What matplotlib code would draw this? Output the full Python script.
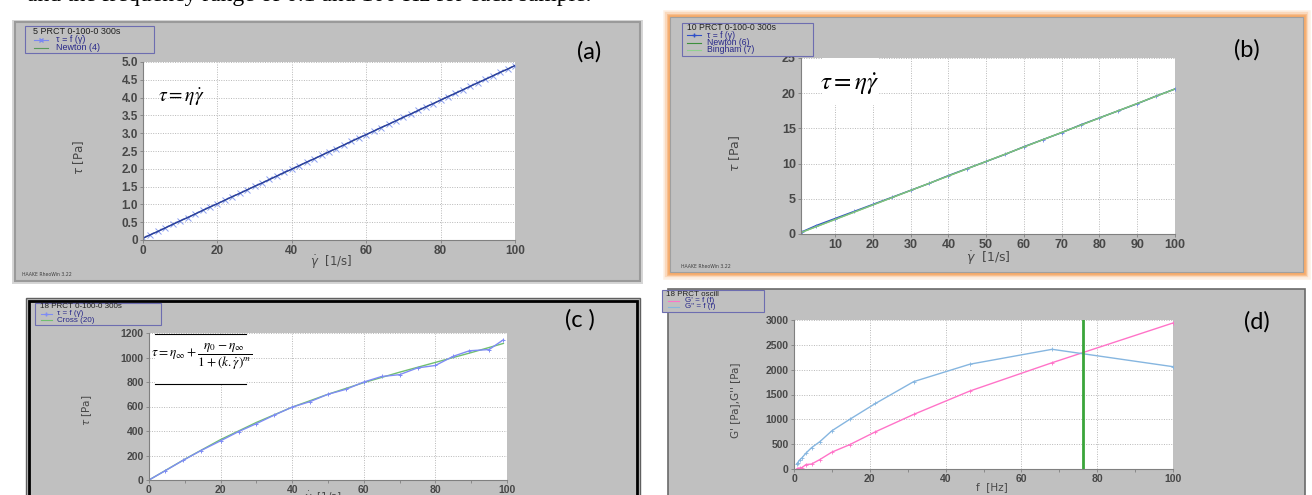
import numpy as np
import matplotlib.pyplot as plt
from matplotlib.patches import Rectangle
from matplotlib.lines import Line2D

# ---- data ----
a_rate = np.arange(0, 101, 2)
a_tau = [0.05, 0.15, 0.24, 0.34, 0.44, 0.54, 0.63, 0.73, 0.83, 0.93,
         1.02, 1.12, 1.22, 1.31, 1.41, 1.51, 1.60, 1.70, 1.80, 1.90,
         1.99, 2.09, 2.19, 2.28, 2.38, 2.48, 2.57, 2.67, 2.77, 2.87,
         2.96, 3.06, 3.16, 3.25, 3.35, 3.45, 3.54, 3.64, 3.74, 3.83,
         3.93, 4.03, 4.12, 4.22, 4.32, 4.42, 4.51, 4.61, 4.71, 4.80, 4.90]
a_newton_x = [0, 100]
a_newton_y = [0.05, 4.90]

b_rate = [1.2, 5, 10, 15, 20, 25, 30, 35, 40, 45, 50, 55, 60, 65, 70, 75, 80, 85, 90, 95, 100]
b_tau = [0.3, 1.2, 2.2, 3.2, 4.2, 5.2, 6.2, 7.2, 8.3, 9.3, 10.3, 11.3, 12.4, 13.4,
         14.4, 15.5, 16.5, 17.5, 18.5, 19.6, 20.6]
b_fit_x = [1.2, 100]
b_fit_y = [0.25, 20.6]

c_rate = [0, 4.5, 9.5, 14.5, 20, 25, 30, 35, 40, 45, 50, 55, 60, 65, 70, 75, 80, 85, 89.5, 95, 99]
c_tau = [0, 75, 160, 240, 320, 395, 460, 530, 595, 640, 700, 740, 800, 845, 860,
         915, 935, 1010, 1055, 1065, 1145]
c_cross_x = [0, 10, 20, 30, 40, 50, 60, 70, 80, 90, 99]
c_cross_y = [0, 170, 330, 470, 595, 700, 795, 880, 960, 1040, 1115]

d_freq = [0.68, 1, 1.47, 2.15, 3.16, 4.64, 6.81, 10, 14.7, 21.5, 31.6, 46.4, 68.1, 100]
d_g1 = [0, 10, 20, 30, 90, 100, 190, 340, 490, 750, 1100, 1570, 2140, 2940]
d_g2 = [100, 130, 180, 230, 320, 430, 550, 770, 1000, 1320, 1760, 2110, 2410, 2060]
d_cross_f = 76.3

W, H = 1312, 495
GRAY = "#c0c0c0"
NAVY = "#28288a"
TICK = "#474747"
TAU_F = "\u03c4 = f (\u03b3\u0307)"

fig = plt.figure(figsize=(W / 100, H / 100), dpi=100)
fig.patch.set_facecolor("white")


def fx(x):
    return x / W


def fy(y):
    return 1 - y / H


def box(x0, y0, x1, y1):
    return [x0 / W, 1 - y1 / H, (x1 - x0) / W, (y1 - y0) / H]


def rect(x0, y0, x1, y1, **kw):
    r = Rectangle((x0 / W, 1 - y1 / H), (x1 - x0) / W, (y1 - y0) / H,
                  transform=fig.transFigure, **kw)
    fig.add_artist(r)
    return r


def txt(x, y, s, **kw):
    return fig.text(fx(x), fy(y), s, **kw)


def legend(x0, y0, x1, y1, title, entries, tx, lx0, lx1, lab_x, rows, fs=6.2):
    rect(x0, y0, x1, y1, fc=GRAY, ec="#6d6db0", lw=0.8, zorder=5)
    txt(tx, rows[0], title, fontsize=fs, color="#202020", va="center",
        family="Liberation Sans", zorder=6)
    for (lab, col, mk), yy in zip(entries, rows[1:]):
        fig.add_artist(Line2D([fx(lx0), fx((lx0 + lx1) / 2), fx(lx1)], [fy(yy)] * 3,
                              color=col, lw=0.8, marker=mk,
                              markevery=[1] if mk else None, ms=3,
                              transform=fig.transFigure, zorder=6))
        txt(lab_x, yy, lab, fontsize=fs, color=NAVY, va="center",
            family=["Liberation Sans", "DejaVu Sans"], zorder=6)


def style(ax, fs):
    ax.set_facecolor("white")
    for s in ["top", "right"]:
        ax.spines[s].set_visible(False)
    for s in ["left", "bottom"]:
        ax.spines[s].set_color("#808080")
        ax.spines[s].set_linewidth(0.8)
    ax.grid(True, color="#b8b8b8", ls=(0, (1, 1.5)), lw=0.7)
    ax.set_axisbelow(True)
    ax.tick_params(labelsize=fs, colors="#808080", labelcolor=TICK,
                   length=2.5, width=0.6, pad=1.2)
    for lab in ax.get_xticklabels() + ax.get_yticklabels():
        lab.set_family("Liberation Sans")
        lab.set_fontweight("bold")


# ---- cut-off line of body text above the figure ----
txt(27, 1, "and the frequency range of 0.1 and 100 Hz for each sample.", fontsize=17,
    family="Liberation Serif", va="baseline", color="black")

# ================= panel (a) =================
rect(12, 20, 643, 284, fc="#d6d6d6", ec="none", zorder=-3)
rect(15, 22, 640, 281, fc=GRAY, ec="#9a9a9a", lw=1.5, zorder=-2)
ax_a = fig.add_axes(box(143, 62, 515, 240))
ax_a.plot(a_rate, a_tau, color="#8ea0f0", lw=0, marker="x", ms=4, mew=0.7)
ax_a.plot(a_newton_x, a_newton_y, color="#4a8a4a", lw=0.8)
ax_a.plot(a_rate, a_tau, color="#2c3ca8", lw=1.0)
ax_a.set_xlim(0, 100)
ax_a.set_ylim(0, 5)
ax_a.set_xticks([0, 20, 40, 60, 80, 100])
ax_a.set_yticks(np.arange(0, 5.01, 0.5))
ax_a.set_yticklabels(["0"] + [f"{v:.1f}" for v in np.arange(0.5, 5.01, 0.5)])
style(ax_a, 8.5)
ax_a.text(0.04, 0.80, r"$\tau = \eta\dot{\gamma}$", transform=ax_a.transAxes,
          fontsize=14, math_fontfamily="stix", va="center")
legend(25, 26, 154, 53, "5 PRCT 0-100-0 300s",
       [(TAU_F, "#7a88f0", "x"), ("Newton (4)", "#5a9a5a", None)],
       33, 34, 48, 56, [31, 39.5, 47.5], fs=6.5)
txt(589, 52, "(a)", fontsize=17, family="Lato", ha="center", va="center")
txt(79, 157, r"$\tau$ [Pa]", fontsize=8.5, rotation=90, ha="center", va="center",
    color=TICK)
txt(331, 262, r"$\dot{\gamma}$  [1/s]", fontsize=8.5, ha="center", va="center",
    color=TICK)
txt(22, 274, "HAAKE RheoWin 3.22", fontsize=3.3, va="center", color="#404040")

# ================= panel (b) =================
for lw, al in [(9, 0.18), (6, 0.3), (3.5, 0.55), (1.8, 0.9)]:
    rect(669, 16, 1304, 273, fc="none", ec="#f5a866", lw=lw, alpha=al, zorder=-3)
rect(670, 17, 1303, 272, fc=GRAY, ec="#a0a0a0", lw=0.8, zorder=-2)
ax_b = fig.add_axes(box(801, 58, 1175, 234))
ax_b.plot(b_rate, b_tau, color="#3050c8", lw=1.0, marker="+", ms=3.5, mew=0.6,
          mec="#6a82e8")
ax_b.plot(b_fit_x, b_fit_y, color="#3d8f3d", lw=0.9)
ax_b.plot(b_fit_x, b_fit_y, color="#8fd08f", lw=1.1, alpha=0.8)
ax_b.set_xlim(1, 100)
ax_b.set_ylim(0, 25)
ax_b.set_xticks(np.arange(10, 101, 10))
ax_b.set_yticks(np.arange(0, 26, 5))
style(ax_b, 9)
rect(823, 58, 879, 105, fc="white", ec="none", zorder=3)
txt(850, 84, r"$\tau = \eta\dot{\gamma}$", fontsize=18, math_fontfamily="stix",
    ha="center", va="center", zorder=4)
legend(682, 23, 813, 56, "10 PRCT 0-100-0 300s",
       [(TAU_F, "#3050c8", "+"), ("Newton (6)", "#3d8f3d", None),
        ("Bingham (7)", "#8fd08f", None)],
       687, 687, 701, 707, [27.5, 35, 42.5, 50], fs=6.2)
txt(1247, 50, "(b)", fontsize=17, family="Lato", ha="center", va="center")
txt(735, 153, r"$\tau$ [Pa]", fontsize=9, rotation=90, ha="center", va="center",
    color=TICK)
txt(988, 258, r"$\dot{\gamma}$  [1/s]", fontsize=9, ha="center", va="center",
    color=TICK)
txt(681, 267, "HAAKE RheoWin 3.22", fontsize=3.3, va="center", color="#404040")

# ================= panel (c) =================
rect(26, 298, 640, 540, fc=GRAY, ec="#606060", lw=1.0, zorder=-2)
rect(29, 301, 637, 540, fc="none", ec="black", lw=2.0, zorder=-1)
ax_c = fig.add_axes(box(149, 333, 507, 480))
ax_c.plot(c_cross_x, c_cross_y, color="#6fbf6f", lw=1.0)
ax_c.plot(c_rate, c_tau, color="#7f8cf5", lw=1.0, marker="+", ms=3, mew=0.7)
ax_c.set_xlim(0, 100)
ax_c.set_ylim(0, 1200)
ax_c.set_xticks([0, 20, 40, 60, 80, 100])
ax_c.set_xticks(np.arange(10, 100, 20), minor=True)
ax_c.set_yticks(np.arange(0, 1201, 200))
style(ax_c, 7.5)
ax_c.tick_params(which="minor", length=2, colors="#808080")
rect(155, 334, 246, 384, fc="white", ec="none", zorder=3)
fig.add_artist(Line2D([fx(155), fx(246)], [fy(334), fy(334)], color="black", lw=0.8,
                      transform=fig.transFigure, zorder=4))
fig.add_artist(Line2D([fx(155), fx(246)], [fy(384), fy(384)], color="black", lw=0.8,
                      transform=fig.transFigure, zorder=4))
txt(202, 357, r"$\tau = \eta_{\infty} + \dfrac{\eta_0 - \eta_{\infty}}{1+(k.\dot{\gamma})^m}$",
    fontsize=9.5, math_fontfamily="stix", ha="center", va="center", zorder=4)
legend(35, 303, 161, 325, "18 PRCT 0-100-0 300s",
       [(TAU_F, "#7f8cf5", "+"), ("Cross (20)", "#6fbf6f", None)],
       40, 41, 52, 57, [307, 313.5, 320], fs=5.8)
txt(580, 320, "(c )", fontsize=17, family="Lato", ha="center", va="center")
txt(87, 410, r"$\tau$ [Pa]", fontsize=7.5, rotation=90, ha="center", va="center",
    color=TICK)
txt(323, 490, r"$\dot{\gamma}$  [1/s]", fontsize=7.5, ha="center", va="top",
    color=TICK)

# ================= panel (d) =================
rect(668, 289, 1305, 540, fc=GRAY, ec="#6a6a6a", lw=1.2, zorder=-2)
ax_d = fig.add_axes(box(794, 320, 1173, 469))
ax_d.plot(d_freq, d_g1, color="#ff73c8", lw=1.0, marker="+", ms=3, mew=0.6)
ax_d.plot(d_freq, d_g2, color="#86b6e0", lw=1.0, marker="+", ms=3, mew=0.6)
ax_d.axvline(d_cross_f, color="#3aa53a", lw=2.0)
ax_d.set_xlim(0, 100)
ax_d.set_ylim(0, 3000)
ax_d.set_xticks([0, 20, 40, 60, 80, 100])
ax_d.set_xticks(np.arange(10, 100, 20), minor=True)
ax_d.set_yticks(np.arange(0, 3001, 500))
style(ax_d, 7.5)
ax_d.tick_params(which="minor", length=2, colors="#808080")
legend(662, 290, 764, 312, "18 PRCT oscill",
       [("G' = f (f)", "#ff73c8", None), ('G" = f (f)', "#86b6e0", None)],
       666, 668, 679, 685, [294, 300.5, 307], fs=5.8)
txt(1257, 322, "(d)", fontsize=17, family="Lato", ha="center", va="center")
txt(735, 400, "G' [Pa],G'' [Pa]", fontsize=7.5, rotation=90, ha="center", va="center",
    color=TICK)
txt(992, 487, "f  [Hz]", fontsize=7.5, ha="center", va="center", color=TICK)

fig.savefig("out.png", dpi=100, facecolor="white")
